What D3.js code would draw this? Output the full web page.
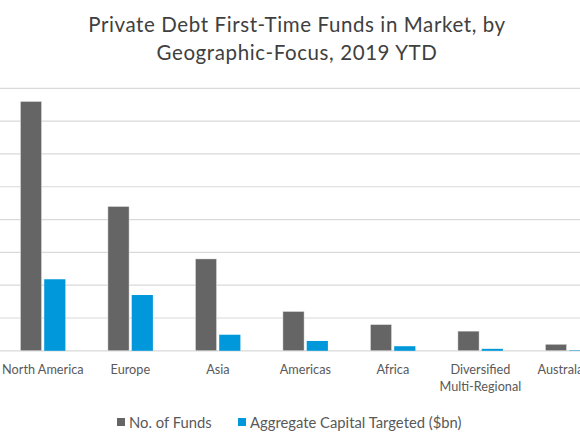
<!DOCTYPE html>
<html><head><meta charset="utf-8">
<script src="https://cdn.jsdelivr.net/npm/d3@7"></script>
<style>body{margin:0;background:#fff;} svg{display:block;font-family:Lato, "Open Sans", sans-serif;}</style>
</head><body>
<svg id="c" width="580" height="435"></svg>
<script>
const categories = ["North America","Europe","Asia","Americas","Africa","Diversified\nMulti-Regional","Australasia"];
const seriesNames = ["No. of Funds","Aggregate Capital Targeted ($bn)"];
const noOfFunds = [76,44,28,12,8,6,2];
const capitalTargeted = [21.8,17,4.9,3,1.4,0.6,0.15];
const yTicks = [0,10,20,30,40,50,60,70,80];
const colors = ["#666565","#0098DA"];

const svg = d3.select("#c");
const x = d3.scaleBand().domain(categories).range([-0.9, 611.6]).paddingInner(0).paddingOuter(0);
const y = d3.scaleLinear().domain([0,80]).range([350.8, 88.3]);
const sub = d3.scaleBand().domain([0,1]).range([20.4, 65.4]).paddingInner(0.11);

// gridlines
svg.append("g").selectAll("line").data(yTicks).join("line")
  .attr("x1",-1).attr("x2",612)
  .attr("y1",d=>y(d)).attr("y2",d=>y(d))
  .attr("stroke","#d9d9d9").attr("stroke-width",1.2);

// bars
const series = [noOfFunds, capitalTargeted];
const g = svg.append("g");
categories.forEach((c,i)=>{
  series.forEach((s,j)=>{
    const base = x(c) - x(categories[0]);
    g.append("rect")
      .attr("x", base + sub(j))
      .attr("width", sub.bandwidth())
      .attr("y", y(s[i]))
      .attr("height", y(0)-y(s[i]))
      .attr("fill", colors[j])
      .attr("stroke", j===0 ? "#eeeeee" : "none")
      .attr("stroke-width", 0.5);
  });
});

// category labels
const lab = svg.append("g").attr("font-size",12.7).attr("fill","#595959").attr("text-anchor","middle");
categories.forEach(c=>{
  const t = lab.append("text").attr("x", x(c)+x.bandwidth()/2).attr("y", 373.5);
  c.split("\n").forEach((line,k)=>{
    t.append("tspan").attr("x", x(c)+x.bandwidth()/2).attr("dy", k===0?0:17.7).text(line);
  });
});

// title
const title = svg.append("text").attr("text-anchor","middle").attr("font-size",20.5)
  .attr("letter-spacing",0.6).attr("fill","#404040");
title.append("tspan").attr("x",297).attr("y",32).text("Private Debt First-Time Funds in Market, by");
title.append("tspan").attr("x",297).attr("y",60).text("Geographic-Focus, 2019 YTD");

// legend
const lg = svg.append("g").attr("font-size",14.8).attr("fill","#595959");
const legX = [117, 238];
seriesNames.forEach((n,j)=>{
  lg.append("rect").attr("x",legX[j]).attr("y",418).attr("width",8).attr("height",8).attr("fill",colors[j]);
  lg.append("text").attr("x",legX[j]+12).attr("y",427.5).text(n);
});
</script>
</body></html>
